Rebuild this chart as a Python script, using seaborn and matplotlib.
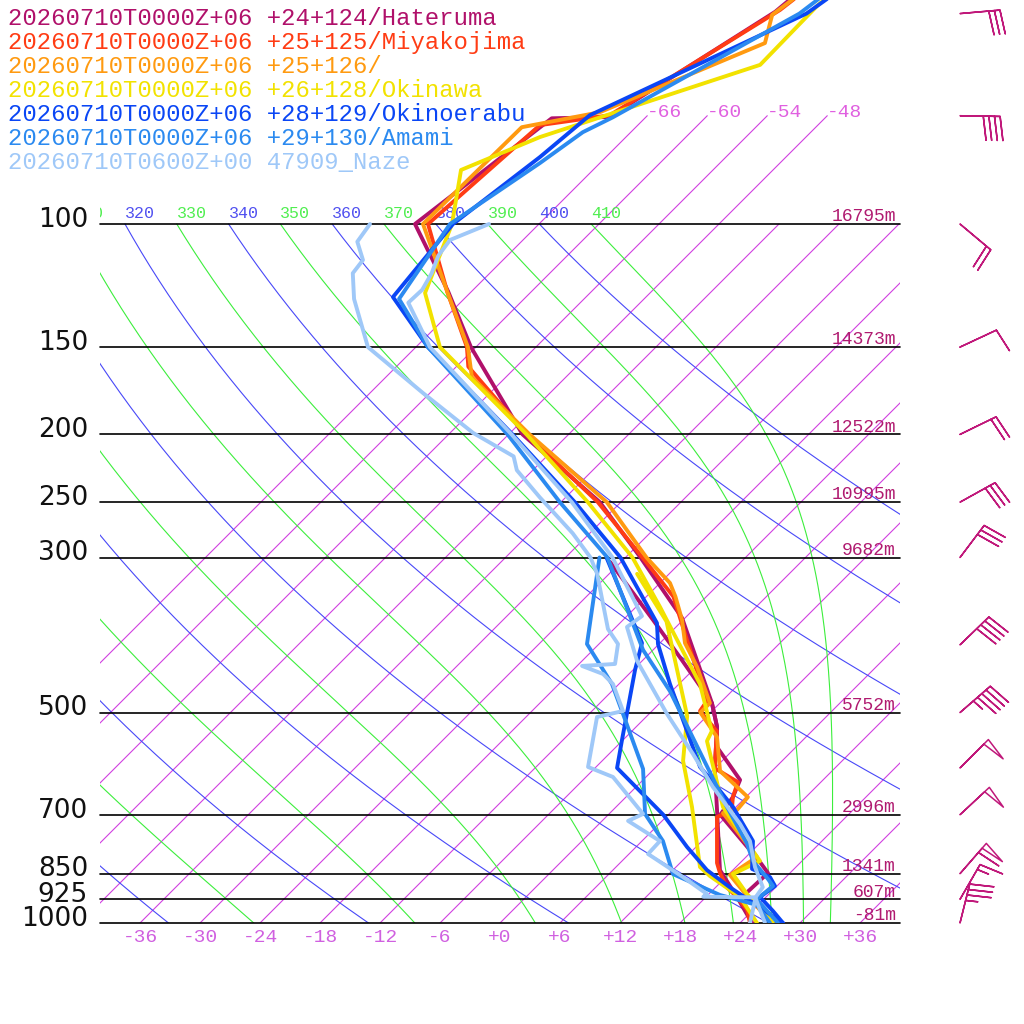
import numpy as np
import matplotlib
matplotlib.use("Agg")
import matplotlib.pyplot as plt
import matplotlib.transforms as mtransforms
import seaborn as sns

# ---------------- data ----------------
LEGEND = [
    "20260710T0000Z+06 +24+124/Hateruma",
    "20260710T0000Z+06 +25+125/Miyakojima",
    "20260710T0000Z+06 +25+126/",
    "20260710T0000Z+06 +26+128/Okinawa",
    "20260710T0000Z+06 +28+129/Okinoerabu",
    "20260710T0000Z+06 +29+130/Amami",
    "20260710T0600Z+00 47909_Naze",
]
COLORS = ["#b0106a", "#ff3c14", "#ff9a10", "#f2e200", "#0a46f5", "#2b8af0", "#9fc8f8"]

# temperature profiles (hPa, degC)
HAT_P = [1000, 917.9, 848.2, 818.0, 700, 660.6, 624.2, 560.1, 524.2, 484.6, 366.1, 300, 250, 200, 150, 125, 100, 70.6, 70.3, 49.7, 45]
HAT_T = [25.2, 21.6, 21.8, 19.9, 11.2, 10.7, 9.7, 4.1, 2.1, -0.8, -12.3, -22.5, -32.1, -46.6, -60.5, -68.3, -78.4, -75.3, -69.7, -63.6, -63.0]
MIY_P = [1000, 957.7, 917.9, 888.8, 848.2, 820.6, 705.3, 689.6, 660.6, 628.7, 600.6, 531.6, 497.4, 481.4, 394.7, 341.2, 300, 250, 200, 160, 150, 125, 100, 72.2, 69.9, 49.4, 45]
MIY_T = [25.0, 23.4, 21.1, 19.1, 17.0, 15.7, 11.1, 11.9, 10.7, 9.7, 6.0, 2.5, -1.2, -1.5, -9.5, -15.3, -22.3, -32.3, -46.2, -58.8, -60.9, -68.4, -77.1, -75.8, -69.8, -63.3, -62.5]
ORA_P = [1000, 917.9, 853.8, 804.6, 696.0, 689.6, 660.6, 606.0, 541.9, 500, 484.6, 430.2, 397.6, 368.5, 341.2, 326.3, 300, 250, 200, 165.6, 150, 125, 100, 72.7, 69.2, 55.1, 50.2, 45]
ORA_T = [27.2, 22.2, 18.2, 19.1, 11.3, 12.4, 12.2, 6.8, 3.1, -1.0, -1.0, -5.9, -9.5, -12.1, -15.1, -17.0, -21.9, -31.4, -45.9, -57.4, -60.8, -68.4, -77.6, -77.4, -71.1, -61.5, -63.6, -62.5]
OKI_P = [1000, 908.9, 851.1, 815.3, 788.9, 682.4, 549.1, 531.6, 455.1, 353.1, 300, 250, 200, 150, 125.5, 100, 83.7, 75.1, 59.2, 48.6, 45]
OKI_T = [27.3, 21.8, 18.4, 19.8, 18.1, 10.7, 2.5, 2.0, -3.9, -15.6, -23.3, -33.3, -46.2, -63.6, -70.5, -74.7, -79.2, -74.6, -59.8, -60.0, -59.5]
ERA_P = [1000, 961.3, 917.9, 885.3, 859.5, 836.9, 763.4, 682.4, 639.0, 598.1, 455.1, 398.9, 372.3, 300, 250, 200, 150, 127.2, 100, 80.2, 69.9, 50, 45]
ERA_T = [28.3, 26.1, 23.4, 23.8, 22.4, 19.8, 17.1, 11.7, 8.1, 4.4, -6.9, -12.1, -14.3, -24.5, -34.6, -47.6, -64.8, -73.3, -74.6, -72.6, -71.8, -60.3, -59.0]
AMA_P = [1000, 925, 885.3, 865.1, 815.3, 770.7, 682.4, 465.8, 406.8, 300, 250, 200, 150, 128, 100, 81.8, 73.9, 70.4, 50, 45]
AMA_T = [27.8, 23.3, 23.6, 22.4, 19.1, 16.8, 11.1, -6.2, -13.0, -25.8, -36.1, -48.1, -64.8, -72.5, -74.9, -72.0, -70.8, -69.3, -61.0, -60.0]
NAZ_P = [1000, 920, 888.8, 831.6, 763.4, 721.6, 639.0, 573.1, 502.3, 421.8, 377.2, 363.8, 300, 250, 200, 150, 129.6, 124.2, 117.7, 111, 105.4, 100]
NAZ_T = [26.5, 23.0, 22.7, 19.9, 16.8, 14.1, 7.7, 2.4, -4.2, -12.5, -16.9, -16.5, -25.3, -34.9, -47.7, -64.6, -71.2, -71.1, -71.8, -72.9, -73.3, -71.0]

# dew point profiles (hPa, degC)
HAT_TDP = [1000, 917.9, 840.0, 700, 600.6, 524.2, 484.6, 420.6, 368.5, 304.4]
HAT_TD = [25.2, 21.1, 16.7, 10.9, 6.0, 2.1, -0.8, -8.1, -15.0, -25.1]
OKI_TDP = [1000, 917.9, 856.7, 831.6, 682.4, 586.3, 505.4, 370.4, 316.6]
OKI_TD = [25.7, 21.4, 16.3, 14.4, 7.6, 2.1, -2.0, -13.5, -21.2]
ERA_TDP = [1000, 888.8, 840.0, 778.4, 700, 600, 547.3, 434.5, 397.6, 300]
ERA_TD = [28.3, 19.4, 15.4, 11.1, 5.5, -3.8, -6.1, -11.8, -13.8, -25.9]
AMA_TDP = [1000, 942.4, 911.9, 851.1, 763.4, 698.2, 602.0, 502.3, 455.1, 398.9, 300]
AMA_TD = [27.0, 23.9, 19.2, 12.4, 8.1, 3.6, -1.1, -8.6, -12.7, -19.2, -26.6]
NAZ_TDP = [1000, 919, 917, 908.9, 859.5, 796.6, 763.4, 714.4, 698.2, 618.2, 598.1, 507.3, 497.4, 455.1, 440.3,
           428.8, 426.0, 398.9, 379.7, 316.6, 300, 277, 246, 225, 215, 199, 174.5, 150, 128, 117.6, 112.6, 106, 100]
NAZ_TD = [25.0, 23.0, 17.7, 17.8, 13.7, 7.9, 7.8, 2.6, 3.4, -3.3, -6.8, -10.9, -8.9, -12.6, -14.6,
          -17.5, -14.4, -16.1, -18.6, -25.2, -27.5, -31.7, -38.6, -43.6, -45.3, -51.7, -60.7, -70.8, -77.0, -79.7, -80.0, -82.4, -82.9]

# standard levels with heights
LEVELS = [100, 150, 200, 250, 300, 500, 700, 850, 925, 1000]
HEIGHTS = ["16795m", "14373m", "12522m", "10995m", "9682m", "5752m", "2996m", "1341m", "607m", "-81m"]

# winds at Hateruma (direction from, knots)
WIND_P = [1000, 925, 850, 700, 600, 500, 400, 300, 250, 200, 150, 100, 70, 50]
WIND_DIR = [14, 30, 41, 47, 45, 49, 46, 37, 61, 64, 65, 130, 91, 85]
WIND_SPD = [35, 15, 60, 50, 50, 45, 40, 30, 30, 20, 10, 20, 40, 30]

ISOTHERMS = list(range(-66, 37, 6))
DRY_THETA = list(range(200, 401, 20))
MOIST_THETA = list(range(230, 411, 20))

# ---------------- helpers ----------------
SKEW = 69.9          # px per decade / px per degC
P_TOP = 1000 / 10 ** (923 / 699.0)


def skew_x(t, p):
    return np.asarray(t, float) + SKEW * np.log10(1000.0 / np.asarray(p, float))


def moist_lapse(T, p):
    tc = T - 273.15
    es = 6.112 * np.exp(17.67 * tc / (tc + 243.5))
    rs = 0.622 * es / (p - es)
    num = 287.04 * T + 2.501e6 * rs
    den = 1005.7 + 2.501e6 ** 2 * rs * 0.622 / (287.04 * T ** 2)
    return num / den / p


def moist_adiabat(theta, ps):
    T = theta * (ps[0] / 1000.0) ** 0.2857
    out = [T]
    for p0, p1 in zip(ps[:-1], ps[1:]):
        dp = p1 - p0
        k1 = moist_lapse(T, p0)
        k2 = moist_lapse(T + k1 * dp / 2, p0 + dp / 2)
        T = T + k2 * dp
        out.append(T)
    return np.array(out) - 273.15


# ---------------- figure ----------------
sns.set_theme(style="white")
plt.rcParams["font.family"] = ["DejaVu Sans"]
MONO = ["Liberation Mono", "DejaVu Sans Mono"]

fig = plt.figure(figsize=(10.24, 10.24), dpi=100)
ax = fig.add_axes([100 / 1024, 101 / 1024, 800 / 1024, 923 / 1024])
ax.set_yscale("log")
ax.set_xlim(-40, 40)
ax.set_ylim(1000, P_TOP)
ax.axis("off")

pgrid = np.geomspace(100, 1000, 200)

# isotherms
iso_tr = mtransforms.offset_copy(ax.transData, fig=fig, x=0, y=-1, units="points")
for t in ISOTHERMS:
    ax.plot(skew_x(t, pgrid), pgrid, color="#d040e0", lw=0.8, zorder=1)
    if t <= -48:
        pu = np.geomspace(70, 100, 20)
        ax.plot(skew_x(t, pu), pu, color="#d040e0", lw=0.8, zorder=1)
        ax.text(skew_x(t, 70), 70, f"{t:d}", color="#e060e0", fontsize=14, family=MONO,
                ha="left", va="baseline", transform=iso_tr, zorder=4)

# dry adiabats
for th in DRY_THETA:
    t = th * (pgrid / 1000.0) ** 0.2857 - 273.15
    ax.plot(skew_x(t, pgrid), pgrid, color="#4848f8", lw=0.8, zorder=1)

# moist adiabats
for th in MOIST_THETA:
    t = moist_adiabat(th, pgrid)
    ax.plot(skew_x(t, pgrid), pgrid, color="#3cee3c", lw=0.8, zorder=1)

# theta labels on 100 hPa line (characters left of the frame are cut away)
lab_tr = mtransforms.offset_copy(ax.transData, fig=fig, x=0, y=2, units="points")
CHAR_W = 0.6 * 12 * 100 / 72 / 10     # one character of the 12pt mono font, in x units
for th in sorted(DRY_THETA + MOIST_THETA):
    x100 = th * 0.1 ** 0.2857 - 273.15 + SKEW
    txt = str(th)
    while txt and x100 + CHAR_W <= -40:
        txt = txt[1:]
        x100 += CHAR_W
    if not txt:
        continue
    col = "#5050f0" if th in DRY_THETA else "#50ee50"
    ax.text(x100, 100, txt, color=col, fontsize=12, family=MONO, ha="left",
            va="bottom", transform=lab_tr, clip_on=True, zorder=4)

# pressure lines and labels
h_tr = mtransforms.offset_copy(ax.transData, fig=fig, x=-3, y=2, units="points")
p_tr = mtransforms.offset_copy(ax.transData, fig=fig, x=0, y=-2, units="points")
for lev, h in zip(LEVELS, HEIGHTS):
    ax.axhline(lev, color="black", lw=1.2, zorder=2, clip_on=False)
    ax.text(40, lev, h, color="#b01a70", fontsize=13, family=MONO, ha="right", va="baseline",
            transform=h_tr, zorder=4)
    ax.text(-41.2, lev, str(lev), color="#111111", fontsize=19, ha="right", va="baseline",
            transform=p_tr, clip_on=False)

# bottom temperature labels
bt = mtransforms.blended_transform_factory(ax.transData, ax.transAxes)
for t in range(-36, 37, 6):
    ax.text(t, -14 / 923, f"{t:+d}" if t >= 0 else f"{t:d}", color="#d060e0", fontsize=14,
            family=MONO, ha="center", va="center", transform=bt, clip_on=False)

# profiles
temps = [(HAT_P, HAT_T), (MIY_P, MIY_T), (ORA_P, ORA_T), (OKI_P, OKI_T),
         (ERA_P, ERA_T), (AMA_P, AMA_T), (NAZ_P, NAZ_T)]
dews = [(HAT_TDP, HAT_TD), None, None, (OKI_TDP, OKI_TD),
        (ERA_TDP, ERA_TD), (AMA_TDP, AMA_TD), (NAZ_TDP, NAZ_TD)]
for k, ((pp, tt), dd, col) in enumerate(zip(temps, dews, COLORS)):
    sns.lineplot(x=skew_x(tt, pp), y=pp, sort=False, estimator=None, color=col, lw=2.8,
                 ax=ax, legend=False, zorder=5 + k)
    if dd is not None:
        sns.lineplot(x=skew_x(dd[1], dd[0]), y=dd[0], sort=False, estimator=None, color=col,
                     lw=2.8, ax=ax, legend=False, zorder=5 + k)
ax.set_xlim(-40, 40)
ax.set_ylim(1000, P_TOP)
ax.axis("off")

# legend text
for i, (txt, col) in enumerate(zip(LEGEND, COLORS)):
    fig.text(8 / 1024, 1 - (25 + 24 * i) / 1024, txt, color=col, fontsize=17.2, family=MONO,
             ha="left", va="baseline")

# wind barbs
axb = fig.add_axes([900 / 1024, 101 / 1024, 124 / 1024, 923 / 1024])
axb.set_yscale("log")
axb.set_xlim(0, 124)
axb.set_ylim(1000, P_TOP)
axb.axis("off")
d = np.deg2rad(WIND_DIR)
spd = np.array(WIND_SPD, float)
u = -spd * np.sin(d)
v = -spd * np.cos(d)
axb.barbs(np.full(len(WIND_P), 60.0), WIND_P, u, v, length=7.6, barbcolor="#c0187a",
          flagcolor="none", linewidth=1.1, clip_on=False,
          sizes=dict(spacing=0.14, height=0.6, width=0.16))

fig.savefig("out.png", dpi=100)
